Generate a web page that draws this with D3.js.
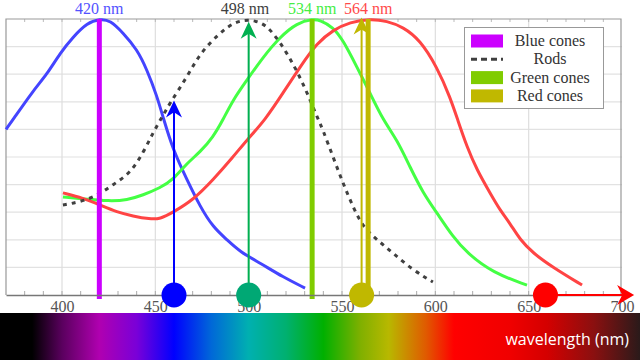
<!DOCTYPE html>
<html><head><meta charset="utf-8">
<script src="https://cdn.jsdelivr.net/npm/d3@7"></script>
<style>body{margin:0;background:#fff}svg{display:block}</style>
</head><body>
<svg id="chart" width="640" height="360"></svg>
<script>
// ---- data ----
const blueNm  = [370,373.2,384.5,392,399,406,413.4,420.4,425.7,432.7,440.2,445.6,450.9,454.1,459.5,467,474,480.9,488.4,495.4,506.1,518.4,530.2];
const blueVal = [0.60,0.63,0.74,0.80,0.877,0.935,0.986,1.0,0.996,0.95,0.89,0.815,0.72,0.645,0.525,0.417,0.32,0.246,0.20,0.156,0.116,0.065,0.025];
const rodNm   = [400.5,409.6,418.7,427.3,436.4,443.4,448.7,453.6,457.9,467,474,484.6,491.6,499.5,507.7,513.1,520.6,527.5,532.9,536.7,539.8,545.2,550.5,555.9,561.3,568.8,577.3,588,598.7];
const rodVal  = [0.326,0.337,0.359,0.40,0.44,0.514,0.587,0.645,0.696,0.79,0.877,0.95,0.986,1.0,0.986,0.95,0.877,0.79,0.707,0.645,0.598,0.50,0.406,0.319,0.246,0.20,0.152,0.09,0.047];
const greenNm = [400.5,411.3,425.7,434.8,443.4,452.5,459.5,467,474,480.9,486.2,491.6,499.1,507.7,516.8,525.9,534.5,538.2,545.2,550.5,558,565,572,579.5,586.4,593.4,600.9,609.5,617,630.9,649.1];
const greenVal= [0.355,0.348,0.34,0.344,0.362,0.388,0.417,0.478,0.518,0.572,0.634,0.707,0.779,0.862,0.935,0.986,1.0,0.996,0.971,0.924,0.826,0.732,0.634,0.562,0.464,0.37,0.297,0.21,0.152,0.08,0.036];
const redNm   = [400.5,411.3,420.4,429.5,438,447.1,452.5,459.5,470.2,480.9,491.6,499.1,508.8,518.4,527.5,536.6,545.2,554.3,565,574.1,582.7,591.8,600.9,608,612.1,617,622.3,629.3,634.6,640,645.4,652.3,663,678.6];
const redVal  = [0.37,0.351,0.326,0.30,0.286,0.275,0.275,0.30,0.344,0.417,0.50,0.562,0.634,0.732,0.826,0.913,0.96,0.989,1.0,0.993,0.971,0.924,0.826,0.715,0.632,0.536,0.453,0.37,0.308,0.26,0.20,0.152,0.10,0.036];

const peakNm     = [420, 498, 534, 564];
const peakLabels = ["420 nm", "498 nm", "534 nm", "564 nm"];
const barNm      = [420, 534, 564];
const arrowNm    = [460, 500, 560.5];
const arrowTop   = [0.705, 0.99, 1.005];
const redArrowNm = [659, 706.5];
const legendLabels = ["Blue cones", "Rods", "Green cones", "Red cones"];
const xTicks = [400, 450, 500, 550, 600, 650, 700];
const specNm = [370,384,400,420,440,460,480,500,520,540,560,575,595,610,640,660,685,712];

// ---- styles ----
const curveColors = {blue:"#4444ff", rod:"#404040", green:"#44ff44", red:"#ff4444"};
const labelColors = ["#5252ff", "#404040", "#44ee44", "#ff4a4a"];
const barColors   = ["#cc00ff", "#80cc00", "#c0b800"];
const arrowColors = ["#0000ff", "#00b050", "#c0b800"];
const dotColors   = ["#0000ff", "#00a874", "#c0b800"];
const legendColors= ["#cc00ff", "#404040", "#80cc00", "#c0b800"];
const specColors = ["#000000","#000000","#5a005e","#b000b0","#7a00d8","#0000ff","#0068d8","#00b0b0","#00b070","#00b000","#80b000","#b8b800","#e05a00","#ff0000","#f00000","#d40000","#8a1010","#2a1a1a"];

const svg = d3.select("#chart");
const x = d3.scaleLinear().domain([370, 700]).range([6, 622]);
const y = d3.scaleLinear().domain([0, 1]).range([295, 19]);
const serif = "'Liberation Serif', 'DejaVu Serif', serif";

// spectrum bar
const defs = svg.append("defs");
const grad = defs.append("linearGradient").attr("id","spec")
  .attr("gradientUnits","userSpaceOnUse").attr("x1",0).attr("x2",640).attr("y1",0).attr("y2",0);
specNm.forEach((n,i)=>grad.append("stop").attr("offset", x(n)/640).attr("stop-color", specColors[i]));
svg.append("rect").attr("x",0).attr("y",313).attr("width",640).attr("height",47).attr("fill","url(#spec)");
svg.append("text").attr("x",629).attr("y",345).attr("text-anchor","end")
  .attr("font-family","'Open Sans', sans-serif").attr("font-size",16).attr("fill","#fff").text("wavelength (nm)");

// grid
const g = svg.append("g");
g.selectAll(".hg").data(d3.range(1,10).map(d=>d/10)).join("line")
  .attr("x1",x(370)).attr("x2",x(700)).attr("y1",d=>y(d)).attr("y2",d=>y(d))
  .attr("stroke","#e2e2e2").attr("stroke-width",1.2);
g.selectAll(".vg").data(xTicks.slice(0,-1)).join("line")
  .attr("x1",d=>x(d)).attr("x2",d=>x(d)).attr("y1",y(1)).attr("y2",y(0))
  .attr("stroke","#dedede").attr("stroke-width",1.2);
// minor ticks
const minor = d3.range(380, 700, 10);
g.selectAll(".mt").data(minor).join("line")
  .attr("x1",d=>x(d)).attr("x2",d=>x(d)).attr("y1",y(0)).attr("y2",y(0)-4)
  .attr("stroke","#aaa");
g.selectAll(".mtt").data(minor).join("line")
  .attr("x1",d=>x(d)).attr("x2",d=>x(d)).attr("y1",y(1)).attr("y2",y(1)+3)
  .attr("stroke","#bbb");
// frame
g.append("path").attr("d",`M${x(370)},${y(0)}V${y(1)}H${x(700)-1}V${y(0)}`)
  .attr("fill","none").attr("stroke","#999").attr("stroke-width",1.2);

// legend box (covers grid)
const leg = svg.append("g");
leg.append("rect").attr("x",464.5).attr("y",27.5).attr("width",139).attr("height",81)
  .attr("fill","#fff").attr("stroke","#999");
legendLabels.forEach((t,i)=>{
  const cy = 41 + i*18.3;
  if (i===1) {
    leg.append("line").attr("x1",471).attr("x2",503).attr("y1",cy).attr("y2",cy)
      .attr("stroke",legendColors[i]).attr("stroke-width",3).attr("stroke-dasharray","6,4");
  } else {
    leg.append("rect").attr("x",471).attr("y",cy-6.5).attr("width",32).attr("height",13).attr("fill",legendColors[i]);
  }
  leg.append("text").attr("x",550).attr("y",cy+5).attr("text-anchor","middle")
    .attr("font-family",serif).attr("font-size",16).attr("fill","#333").text(t);
});

// curves
const line = d3.line().x(d=>x(d[0])).y(d=>y(d[1])).curve(d3.curveBasis);
const curves = [
  [blueNm, blueVal, curveColors.blue, null],
  [greenNm, greenVal, curveColors.green, null],
  [redNm, redVal, curveColors.red, null],
  [rodNm, rodVal, curveColors.rod, "4,5"]
];
curves.forEach(([nm, v, c, dash])=>{
  svg.append("path").datum(nm.map((n,i)=>[n, v[i]])).attr("d", line)
    .attr("fill","none").attr("stroke",c).attr("stroke-width",3)
    .attr("stroke-dasharray", dash).attr("stroke-linejoin","round");
});

// peak bars
svg.selectAll(".bar").data(barNm).join("line")
  .attr("x1",d=>x(d)).attr("x2",d=>x(d)).attr("y1",y(1)).attr("y2",y(0)+4)
  .attr("stroke",(d,i)=>barColors[i]).attr("stroke-width",5);

// x axis
const axis = d3.axisBottom(x).tickValues(xTicks).tickSize(0).tickPadding(6).tickSizeOuter(0);
const ax = svg.append("g").attr("transform",`translate(0,${y(0)})`).call(axis);
ax.select(".domain").attr("stroke","#777").attr("stroke-width",1.5);
ax.selectAll("text").attr("font-family",serif).attr("font-size",16).attr("fill","#555");

// arrows
function head(tx, ty, dir, len, half, color){
  const c = Math.cos(dir), s = Math.sin(dir);
  const p = (a,b)=>[tx + a*c - b*s, ty + a*s + b*c];
  const pts = [p(0,0), p(-len,-half), p(-len*0.7,0), p(-len,half)];
  svg.append("path").attr("d","M"+pts.map(q=>q.join(",")).join("L")+"Z").attr("fill",color);
}
arrowNm.forEach((n,i)=>{
  svg.append("line").attr("x1",x(n)).attr("x2",x(n)).attr("y1",y(0)).attr("y2",y(arrowTop[i])+8)
    .attr("stroke",arrowColors[i]).attr("stroke-width",2);
  head(x(n), y(arrowTop[i]), -Math.PI/2, 17, 8, arrowColors[i]);
});
svg.append("line").attr("x1",x(redArrowNm[0])).attr("x2",x(redArrowNm[1])-8).attr("y1",y(0)).attr("y2",y(0))
  .attr("stroke","#ff0000").attr("stroke-width",2);
head(x(redArrowNm[1]), y(0), 0, 17, 10, "#ff0000");

// dots
const dotNm = arrowNm.concat([redArrowNm[0]]);
svg.selectAll(".dot").data(dotNm).join("circle")
  .attr("cx",d=>x(d)).attr("cy",y(0)).attr("r",12.5)
  .attr("fill",(d,i)=> i<3 ? dotColors[i] : "#ff0000");

// peak labels
svg.selectAll(".pl").data(peakNm).join("text")
  .attr("x",d=>x(d)).attr("y",14).attr("text-anchor","middle")
  .attr("font-family",serif).attr("font-size",16)
  .attr("fill",(d,i)=>labelColors[i]).text((d,i)=>peakLabels[i]);
</script>
</body></html>
